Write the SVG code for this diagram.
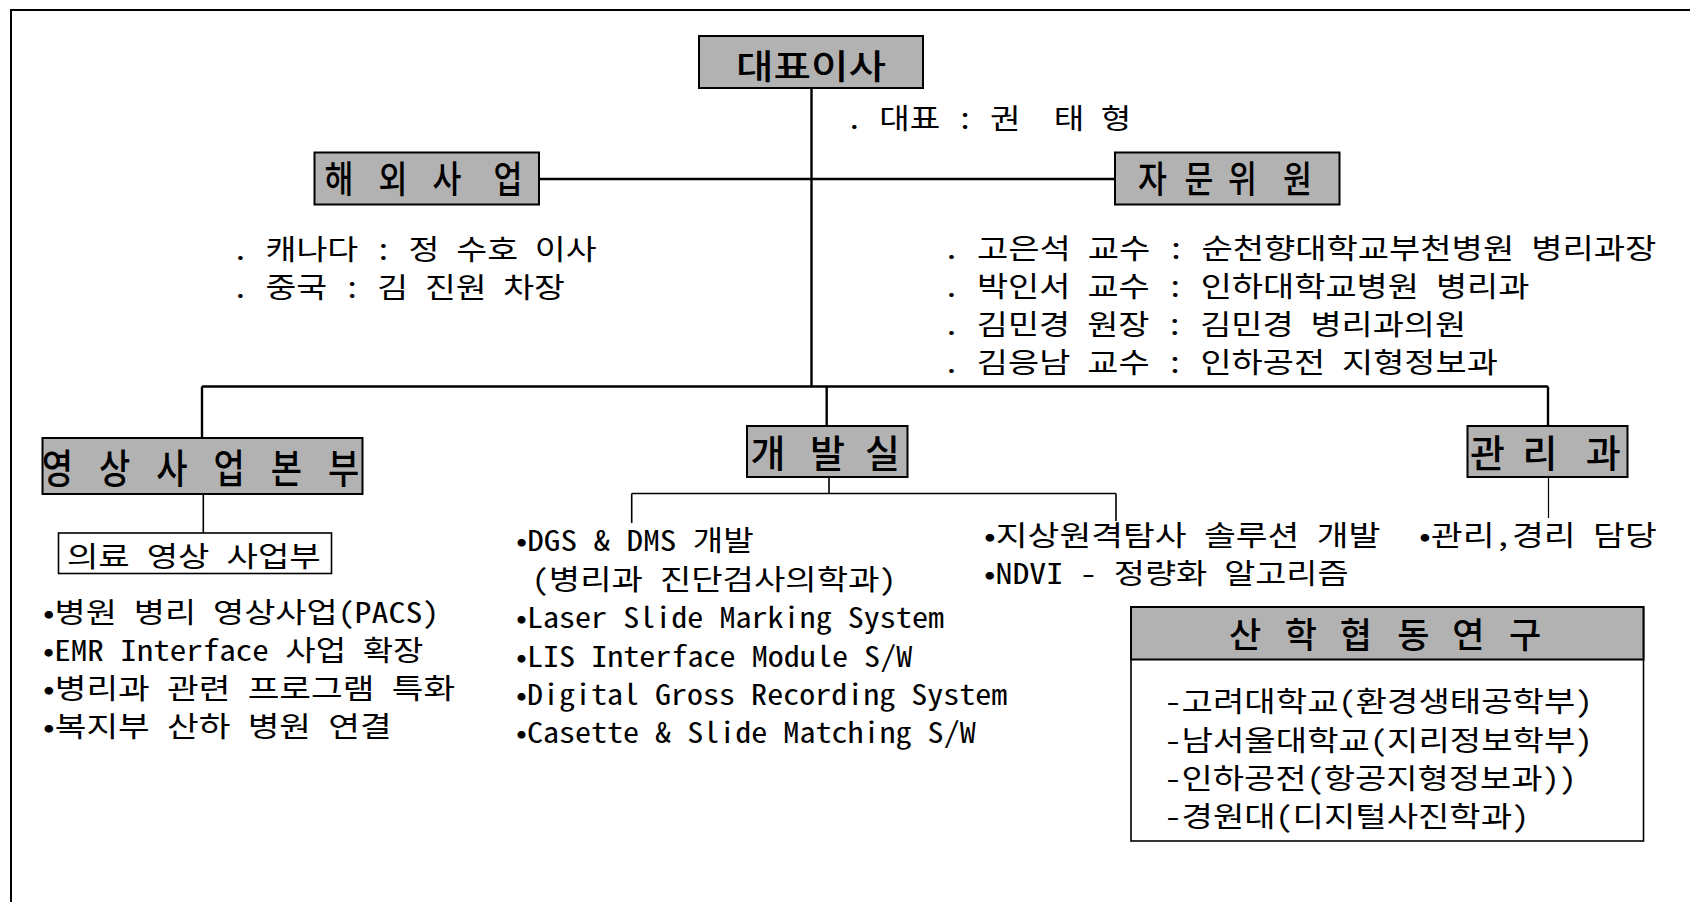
<svg xmlns="http://www.w3.org/2000/svg" width="1690" height="902" viewBox="0 0 1690 902">
<style>
.t{font-family:'Noto Sans Mono CJK KR','Noto Sans CJK KR','Noto Sans CJK JP',sans-serif;font-size:28.5px;fill:#000;font-weight:500}
.h{font-family:'Noto Sans CJK KR','Noto Sans CJK JP',sans-serif;fill:#000;font-weight:500}
.box{fill:#b2b2b2;stroke:#000;stroke-width:2}
.wbox{fill:#fff;stroke:#000;stroke-width:1.6}
.c{fill:none;stroke:#000;stroke-width:2.4}
.c2{fill:none;stroke:#000;stroke-width:1.6}
.c3{fill:none;stroke:#000;stroke-width:1.2}
</style>
<rect x="0" y="0" width="1690" height="902" fill="#fff"/>
<path d="M11,902 V10 H1690" fill="none" stroke="#000" stroke-width="2"/>

<g id="connectors">
<path class="c" d="M811.5,88 V386.5"/>
<path class="c" d="M539,179 H1115"/>
<path class="c" d="M202,386.5 H1548 M202,386.5 V438 M826.7,386.5 V426 M1548,386.5 V426"/>
<path class="c2" d="M203.3,494 V533"/>
<path class="c2" d="M829,477 V493.5 M631.7,493.5 H1116 M631.7,493.5 V523 M1116,493.5 V521"/>
<path class="c3" d="M1548.5,477 V518"/>
</g>

<g id="ceo">
<rect class="box" x="699" y="36" width="224" height="52"/>
<text class="h" x="736" y="79" font-size="34" textLength="150" lengthAdjust="spacingAndGlyphs">대표이사</text>
<text class="t" x="846" y="129" xml:space="preserve" textLength="285.3" lengthAdjust="spacingAndGlyphs">. 대표 : 권  태 형</text>
</g>

<g id="overseas">
<rect class="box" x="314.5" y="152.5" width="224.5" height="52"/>
<text class="h" font-size="37" text-anchor="middle" transform="matrix(0.85,0,0,1,426.5,192.5)" x="-102.9 -71.2 -39.4 -7.7 24.1 60 95.9" y="0">해 외 사 업</text>
<text class="t" x="232" y="259.5" textLength="364.6" lengthAdjust="spacingAndGlyphs">. 캐나다 : 정 수호 이사</text>
<text class="t" x="232" y="297.5" textLength="332.9" lengthAdjust="spacingAndGlyphs">. 중국 : 김 진원 차장</text>
</g>

<g id="advisors">
<rect class="box" x="1115" y="152.5" width="224.5" height="52"/>
<text class="h" font-size="37" text-anchor="middle" transform="matrix(0.85,0,0,1,1227,192.5)" x="-87.6 -60.3 -32.9 -7.4 18.2 50.6 82.9" y="0">자 문 위 원</text>
<text class="t" x="943" y="259" textLength="713.3" lengthAdjust="spacingAndGlyphs">. 고은석 교수 : 순천향대학교부천병원 병리과장</text>
<text class="t" x="943" y="297" textLength="586.5" lengthAdjust="spacingAndGlyphs">. 박인서 교수 : 인하대학교병원 병리과</text>
<text class="t" x="943" y="335" textLength="523.1" lengthAdjust="spacingAndGlyphs">. 김민경 원장 : 김민경 병리과의원</text>
<text class="t" x="943" y="372.5" textLength="554.8" lengthAdjust="spacingAndGlyphs">. 김응남 교수 : 인하공전 지형정보과</text>
</g>

<g id="imaging">
<rect class="box" x="42.5" y="438" width="320" height="56"/>
<text class="h" font-size="40" text-anchor="middle" transform="matrix(0.85,0,0,1,202.5,483)" x="-170.6 -137 -103.3 -69.7 -36 -2.4 31.3 65 98.6 132.3 165.9" y="0">영 상 사 업 본 부</text>
</g>

<g id="medical">
<rect class="wbox" x="58.5" y="533" width="273" height="40.5"/>
<text class="t" x="67" y="567" font-size="29" textLength="253.6" lengthAdjust="spacingAndGlyphs">의료 영상 사업부</text>
<text class="t" x="43" y="623" textLength="396.3" lengthAdjust="spacingAndGlyphs">•병원 병리 영상사업(PACS)</text>
<text class="t" x="43" y="661" textLength="380.4" lengthAdjust="spacingAndGlyphs">•EMR Interface 사업 확장</text>
<text class="t" x="43" y="699" textLength="412.1" lengthAdjust="spacingAndGlyphs">•병리과 관련 프로그램 특화</text>
<text class="t" x="43" y="737" textLength="348.7" lengthAdjust="spacingAndGlyphs">•복지부 산하 병원 연결</text>
</g>

<g id="dev">
<rect class="box" x="747" y="426" width="160.5" height="51"/>
<text class="h" font-size="38" text-anchor="middle" x="768 797.7 827.4 854.9 882.4" y="467">개 발 실</text>
<text class="t" x="516" y="551" textLength="237.8" lengthAdjust="spacingAndGlyphs">•DGS &amp; DMS 개발</text>
<text class="t" x="531.8" y="589.5" textLength="364.6" lengthAdjust="spacingAndGlyphs">(병리과 진단검사의학과)</text>
<text class="t" x="516" y="628" textLength="428" lengthAdjust="spacingAndGlyphs">•Laser Slide Marking System</text>
<text class="t" x="516" y="666.5" textLength="396.3" lengthAdjust="spacingAndGlyphs">•LIS Interface Module S/W</text>
<text class="t" x="516" y="704.5" textLength="491.4" lengthAdjust="spacingAndGlyphs">•Digital Gross Recording System</text>
<text class="t" x="516" y="743" textLength="459.7" lengthAdjust="spacingAndGlyphs">•Casette &amp; Slide Matching S/W</text>
<text class="t" x="984" y="545.5" textLength="396.3" lengthAdjust="spacingAndGlyphs">•지상원격탐사 솔루션 개발</text>
<text class="t" x="984" y="584" textLength="364.6" lengthAdjust="spacingAndGlyphs">•NDVI - 정량화 알고리즘</text>
</g>

<g id="admin">
<rect class="box" x="1467.5" y="426" width="160" height="51"/>
<text class="h" font-size="38" text-anchor="middle" x="1487.5 1513.8 1540 1571.7 1603.3" y="466.5">관 리 과</text>
<text class="t" x="1419" y="546" textLength="237.8" lengthAdjust="spacingAndGlyphs">•관리,경리 담당</text>
</g>

<g id="industry">
<rect class="wbox" x="1131" y="607" width="512.5" height="234" stroke-width="2"/>
<rect class="box" x="1131" y="607" width="512.5" height="52.5"/>
<text class="h" font-size="35" text-anchor="middle" x="1245 1272.9 1300.8 1328.3 1355.8 1384.6 1413.3 1440.8 1468.3 1496.7 1525" y="648">산 학 협 동 연 구</text>
<text class="t" x="1164.5" y="712" textLength="428" lengthAdjust="spacingAndGlyphs">-고려대학교(환경생태공학부)</text>
<text class="t" x="1164.5" y="750.5" textLength="428" lengthAdjust="spacingAndGlyphs">-남서울대학교(지리정보학부)</text>
<text class="t" x="1164.5" y="789" textLength="412.1" lengthAdjust="spacingAndGlyphs">-인하공전(항공지형정보과))</text>
<text class="t" x="1164.5" y="827" textLength="364.6" lengthAdjust="spacingAndGlyphs">-경원대(디지털사진학과)</text>
</g>
</svg>
